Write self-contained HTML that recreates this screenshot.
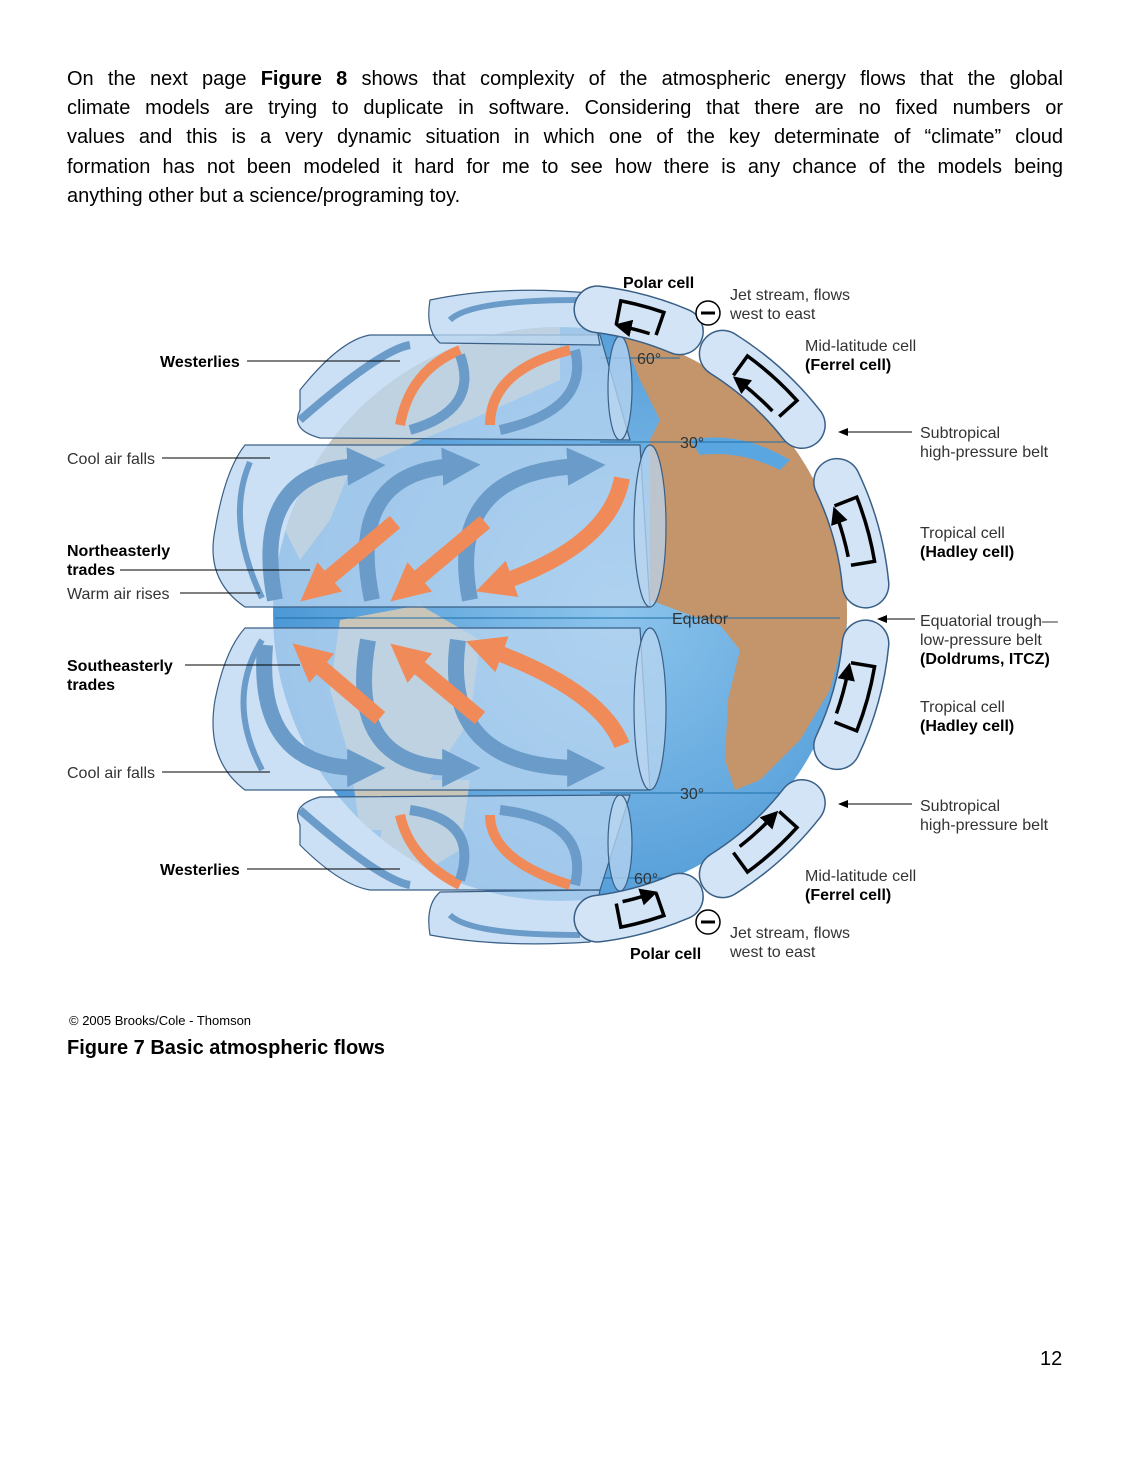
<!DOCTYPE html>
<html><head><meta charset="utf-8">
<style>
html,body{margin:0;padding:0;background:#fff;}
body{width:1131px;height:1463px;position:relative;font-family:"Liberation Sans",Arial,sans-serif;color:#000;}
.p{position:absolute;left:67px;width:996px;font-size:20px;line-height:29.2px;top:65px;}
.p div{text-align:justify;text-align-last:justify;white-space:nowrap;}
.p div.l{text-align-last:left;}
svg{position:absolute;left:0;top:0;}
</style></head><body>
<div class="p">
<div>On the next page <b>Figure 8</b> shows that complexity of the atmospheric energy flows that the global</div>
<div>climate models are trying to duplicate in software. Considering that there are no fixed numbers or</div>
<div>values and this is a very dynamic situation in which one of the key determinate of “climate” cloud</div>
<div>formation has not been modeled it hard for me to see how there is any chance of the models being</div>
<div class="l">anything other but a science/programing toy.</div>
</div>
<svg width="1131" height="1463" viewBox="0 0 1131 1463" font-family="Liberation Sans, Arial, sans-serif">
<defs>
<clipPath id="g"><circle cx="560" cy="614" r="287"/></clipPath>
<radialGradient id="oc" cx="0.6" cy="0.5" r="0.6"><stop offset="0" stop-color="#8cc4ec"/><stop offset="1" stop-color="#4c98d6"/></radialGradient>
<marker id="ah" markerWidth="5" markerHeight="5" refX="2" refY="2.5" orient="auto" markerUnits="strokeWidth"><path d="M0,0 L5,2.5 L0,5 z" fill="#000"/></marker>
<marker id="bh" markerWidth="2.4" markerHeight="2.4" refX="0.8" refY="1.2" orient="auto" markerUnits="strokeWidth"><path d="M0,0 L2.4,1.2 L0,2.4 z" fill="#6b9bc8"/></marker>
<marker id="oh" markerWidth="2.4" markerHeight="2.4" refX="0.8" refY="1.2" orient="auto" markerUnits="strokeWidth"><path d="M0,0 L2.4,1.2 L0,2.4 z" fill="#f08a58"/></marker>
<g id="cellA">
 <path d="M506.7,311.7 A307 307 0 0 1 613.3,311.7" stroke="#3a5f86" stroke-width="48" fill="none" stroke-linecap="round"/>
 <path d="M506.7,311.7 A307 307 0 0 1 613.3,311.7" stroke="#d2e4f6" stroke-width="45" fill="none" stroke-linecap="round"/>
 <path d="M529.2,320.6 L526.7,296.8 A319 319 0 0 1 593.3,296.8 L590.8,320.6" stroke="#000" stroke-width="3.5" fill="none"/>
 <path d="M582,321 A295 295 0 0 0 540,321" stroke="#000" stroke-width="3.5" fill="none" marker-end="url(#ah)"/>
</g>
<g id="cellP">
 <path d="M517.3,310 A307 307 0 0 1 602.7,310" stroke="#3a5f86" stroke-width="48" fill="none" stroke-linecap="round"/>
 <path d="M517.3,310 A307 307 0 0 1 602.7,310" stroke="#d2e4f6" stroke-width="45" fill="none" stroke-linecap="round"/>
 <path d="M539.4,319.7 L537.7,295.8 A319 319 0 0 1 582.3,295.8 L580.6,319.7" stroke="#000" stroke-width="3.5" fill="none"/>
 <path d="M574,320 A295 295 0 0 0 548,320" stroke="#000" stroke-width="3.5" fill="none" marker-end="url(#ah)"/>
</g>
</defs>
<circle cx="560" cy="614" r="287" fill="url(#oc)"/>
<g clip-path="url(#g)">
 <path d="M620,330 L700,330 L760,360 L800,400 L835,460 L850,540 L848,620 L830,690 L800,740 L760,780 L735,790 L725,760 L728,700 L740,650 L720,625 L690,615 L650,600 L650,440 L660,420 L640,380 Z" fill="#c4956a"/>
 <path d="M690,440 Q740,430 790,460 L780,470 Q740,450 700,455 Z" fill="#5aa6e0"/>
 <path d="M330,330 L560,320 L560,380 L470,420 L420,440 L350,470 L330,520 L300,560 L280,520 Z" fill="#c9c5b8"/>
 <path d="M340,620 L420,605 L480,640 L470,720 L430,780 L390,830 L360,830 L350,760 L330,690 Z" fill="#c9c5b8"/>
 <path d="M390,780 L470,780 L460,850 L410,880 L380,840Z" fill="#c9c5b8"/>
</g>
<g stroke="#1d6fa8" stroke-width="1">
<line x1="600" y1="358" x2="680" y2="358"/>
<line x1="600" y1="442" x2="800" y2="442"/>
<line x1="275" y1="618" x2="840" y2="618"/>
<line x1="600" y1="793" x2="800" y2="793"/>
<line x1="600" y1="878" x2="680" y2="878"/>
</g>
<g fill="#b9d5f0" fill-opacity="0.75" stroke="#3a5f86" stroke-width="1.2">
 <path d="M300,410 Q290,430 320,438 L630,440 L600,335 L370,335 Q340,340 300,390 Z"/>
 <path d="M430,300 Q500,285 590,293 L600,345 L440,343 Q425,330 430,300Z"/>
 <path d="M245,445 L640,445 L650,607 L245,607 Q205,580 215,530 Q225,470 245,445Z"/>
 <path d="M245,628 L640,628 L650,790 L245,790 Q205,760 215,700 Q225,650 245,628Z"/>
 <path d="M300,825 Q290,805 320,797 L630,795 L600,890 L370,890 Q340,885 300,845 Z"/>
 <path d="M430,935 Q500,948 590,942 L600,890 L440,892 Q425,905 430,935Z"/>
 <ellipse cx="650" cy="526" rx="16" ry="81"/>
 <ellipse cx="650" cy="709" rx="16" ry="81"/>
 <ellipse cx="620" cy="388" rx="12" ry="52"/>
 <ellipse cx="620" cy="843" rx="12" ry="48"/>
</g>
<g fill="none" stroke-width="16">
 <path d="M262,598 Q225,520 250,462" stroke="#6b9bc8" stroke-width="6"/>
 <path d="M275,600 Q250,470 360,466" stroke="#6b9bc8" marker-end="url(#bh)"/>
 <path d="M372,600 Q345,472 455,466" stroke="#6b9bc8" marker-end="url(#bh)"/>
 <path d="M470,600 Q445,472 580,466" stroke="#6b9bc8" marker-end="url(#bh)"/>
 <path d="M395,522 L320,585" stroke="#f08a58" marker-end="url(#oh)"/>
 <path d="M485,522 L410,585" stroke="#f08a58" marker-end="url(#oh)"/>
 <path d="M622,478 Q610,545 500,583" stroke="#f08a58" marker-end="url(#oh)"/>
 <path d="M262,640 Q225,700 262,770" stroke="#6b9bc8" stroke-width="6"/>
 <path d="M265,645 Q255,768 360,768" stroke="#6b9bc8" marker-end="url(#bh)"/>
 <path d="M368,640 Q345,768 455,768" stroke="#6b9bc8" marker-end="url(#bh)"/>
 <path d="M458,640 Q440,768 580,768" stroke="#6b9bc8" marker-end="url(#bh)"/>
 <path d="M380,718 L312,660" stroke="#f08a58" marker-end="url(#oh)"/>
 <path d="M480,718 L410,660" stroke="#f08a58" marker-end="url(#oh)"/>
 <path d="M622,745 Q600,690 490,650" stroke="#f08a58" marker-end="url(#oh)"/>
 <path d="M300,420 Q380,350 410,345" stroke="#6b9bc8" stroke-width="8"/>
 <path d="M400,425 Q410,370 460,350" stroke="#f08a58" stroke-width="10"/>
 <path d="M410,430 Q480,410 460,355" stroke="#6b9bc8" stroke-width="10"/>
 <path d="M490,425 Q490,370 570,350" stroke="#f08a58" stroke-width="10"/>
 <path d="M500,430 Q590,410 575,350" stroke="#6b9bc8" stroke-width="10"/>
 <path d="M450,320 Q470,300 580,300" stroke="#6b9bc8" stroke-width="6"/>
 <path d="M300,810 Q380,880 410,885" stroke="#6b9bc8" stroke-width="8"/>
 <path d="M400,815 Q410,860 460,885" stroke="#f08a58" stroke-width="10"/>
 <path d="M410,810 Q480,820 460,880" stroke="#6b9bc8" stroke-width="10"/>
 <path d="M490,815 Q490,860 570,885" stroke="#f08a58" stroke-width="10"/>
 <path d="M500,810 Q590,820 575,885" stroke="#6b9bc8" stroke-width="10"/>
 <path d="M450,915 Q470,935 580,935" stroke="#6b9bc8" stroke-width="6"/>
</g>
<use href="#cellP" transform="rotate(15 560 614)"/>
<use href="#cellA" transform="rotate(42 560 614)"/>
<use href="#cellA" transform="rotate(74.5 560 614)"/>
<use href="#cellA" transform="rotate(105.5 560 614)"/>
<use href="#cellA" transform="rotate(138 560 614)"/>
<use href="#cellP" transform="rotate(165 560 614)"/>
<g stroke="#000" stroke-width="1.5" fill="#fff"><circle cx="708" cy="313" r="12"/><circle cx="708" cy="922" r="12"/></g>
<g stroke="#000" stroke-width="3"><line x1="701" y1="313" x2="715" y2="313"/><line x1="701" y1="922" x2="715" y2="922"/></g>
<g stroke="#000" stroke-width="1">
 <line x1="247" y1="361" x2="400" y2="361"/>
 <line x1="162" y1="458" x2="270" y2="458"/>
 <line x1="120" y1="570" x2="310" y2="570"/>
 <line x1="180" y1="593" x2="260" y2="593"/>
 <line x1="185" y1="665" x2="300" y2="665"/>
 <line x1="162" y1="772" x2="270" y2="772"/>
 <line x1="247" y1="869" x2="400" y2="869"/>
 <line x1="912" y1="432" x2="845" y2="432"/>
 <line x1="915" y1="619" x2="885" y2="619"/>
 <line x1="912" y1="804" x2="845" y2="804"/>
</g>
<g fill="#000"><path d="M838,432 l10,-4 v8z"/><path d="M877,619 l10,-4 v8z"/><path d="M838,804 l10,-4 v8z"/></g>
<g font-size="16" fill="#333">
 <text x="623" y="288" font-weight="bold" fill="#000">Polar cell</text>
 <text x="730" y="300">Jet stream, flows</text><text x="730" y="319">west to east</text>
 <text x="805" y="351">Mid-latitude cell</text><text x="805" y="370" font-weight="bold" fill="#000">(Ferrel cell)</text>
 <text x="920" y="438">Subtropical</text><text x="920" y="457">high-pressure belt</text>
 <text x="920" y="538">Tropical cell</text><text x="920" y="557" font-weight="bold" fill="#000">(Hadley cell)</text>
 <text x="920" y="626">Equatorial trough—</text><text x="920" y="645">low-pressure belt</text><text x="920" y="664" font-weight="bold" fill="#000">(Doldrums, ITCZ)</text>
 <text x="920" y="712">Tropical cell</text><text x="920" y="731" font-weight="bold" fill="#000">(Hadley cell)</text>
 <text x="920" y="811">Subtropical</text><text x="920" y="830">high-pressure belt</text>
 <text x="805" y="881">Mid-latitude cell</text><text x="805" y="900" font-weight="bold" fill="#000">(Ferrel cell)</text>
 <text x="730" y="938">Jet stream, flows</text><text x="730" y="957">west to east</text>
 <text x="630" y="959" font-weight="bold" fill="#000">Polar cell</text>
 <text x="160" y="367" font-weight="bold" fill="#000">Westerlies</text>
 <text x="67" y="464">Cool air falls</text>
 <text x="67" y="556" font-weight="bold" fill="#000">Northeasterly</text><text x="67" y="575" font-weight="bold" fill="#000">trades</text>
 <text x="67" y="599">Warm air rises</text>
 <text x="67" y="671" font-weight="bold" fill="#000">Southeasterly</text><text x="67" y="690" font-weight="bold" fill="#000">trades</text>
 <text x="67" y="778">Cool air falls</text>
 <text x="160" y="875" font-weight="bold" fill="#000">Westerlies</text>
 <text x="637" y="364">60°</text><text x="680" y="448">30°</text>
 <text x="672" y="624">Equator</text>
 <text x="680" y="799">30°</text><text x="634" y="884">60°</text>
</g>
<text x="69" y="1025" font-size="13">© 2005 Brooks/Cole - Thomson</text>
<text x="67" y="1054" font-size="20" font-weight="bold">Figure 7 Basic atmospheric flows</text>
<text x="1040" y="1365" font-size="20">12</text>
</svg>
</body></html>
